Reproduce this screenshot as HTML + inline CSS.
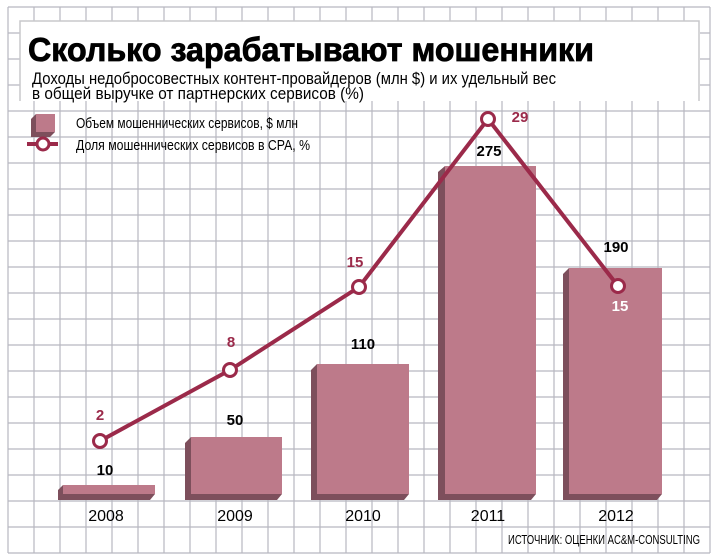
<!DOCTYPE html>
<html><head><meta charset="utf-8"><style>
html,body{margin:0;padding:0;background:#fff;}
svg{display:block;}
text{font-family:"Liberation Sans","DejaVu Sans",sans-serif;}
</style></head><body>
<svg width="719" height="560" viewBox="0 0 719 560" xmlns="http://www.w3.org/2000/svg">
<rect width="719" height="560" fill="#fff"/>
<g stroke="#b8b8c0" stroke-width="1.2">
<path d="M8 7V553M34 7V553M60 7V553M86 7V553M112 7V553M138 7V553M164 7V553M190 7V553M216 7V553M242 7V553M268 7V553M294 7V553M320 7V553M346 7V553M372 7V553M398 7V553M424 7V553M450 7V553M476 7V553M502 7V553M528 7V553M554 7V553M580 7V553M606 7V553M632 7V553M658 7V553M684 7V553M710 7V553"/>
<path d="M8 7H710M8 33H710M8 59H710M8 85H710M8 111H710M8 137H710M8 163H710M8 189H710M8 215H710M8 241H710M8 267H710M8 293H710M8 319H710M8 345H710M8 371H710M8 397H710M8 423H710M8 449H710M8 475H710M8 501H710M8 527H710M8 553H710"/>
</g>
<rect x="20" y="21" width="680" height="80" fill="#fff"/>
<path d="M20 101V21H699V101" fill="none" stroke="#c8c8cc" stroke-width="1.5"/>
<text x="28" y="61" font-size="33" font-weight="bold" stroke="#000" stroke-width="0.8" textLength="566" lengthAdjust="spacingAndGlyphs">Сколько зарабатывают мошенники</text>
<text x="32" y="84" font-size="17" textLength="524" lengthAdjust="spacingAndGlyphs">Доходы недобросовестных контент-провайдеров (млн $) и их удельный вес</text>
<text x="32" y="99" font-size="17" textLength="332" lengthAdjust="spacingAndGlyphs">в общей выручке от партнерских сервисов (%)</text>
<path d="M31 119L36 114H55V132L50 137H31Z" fill="#7d4f5c"/>
<rect x="36" y="114" width="19" height="18" fill="#bd7a8a"/>
<line x1="27" y1="144" x2="58" y2="144" stroke="#9b2a4a" stroke-width="4"/>
<circle cx="43" cy="144" r="6" fill="#fff" stroke="#9b2a4a" stroke-width="3"/>
<text x="76" y="128" font-size="15" textLength="222" lengthAdjust="spacingAndGlyphs">Объем мошеннических сервисов, $ млн</text>
<text x="76" y="150" font-size="15" textLength="234" lengthAdjust="spacingAndGlyphs">Доля мошеннических сервисов в CPA, %</text>
<g>
<path d="M58 490L63 485V494H155L150 500H58Z" fill="#7d4f5c"/>
<rect x="63" y="485" width="92" height="9" fill="#bd7a8a"/>
<path d="M185 443L191 437V494H282L277 500H185Z" fill="#7d4f5c"/>
<rect x="191" y="437" width="91" height="57" fill="#bd7a8a"/>
<path d="M311 370L317 364V494H409L404 500H311Z" fill="#7d4f5c"/>
<rect x="317" y="364" width="92" height="130" fill="#bd7a8a"/>
<path d="M438 172L445 166V494H536L531 500H438Z" fill="#7d4f5c"/>
<rect x="445" y="166" width="91" height="328" fill="#bd7a8a"/>
<path d="M563 274L569 268V494H662L657 500H563Z" fill="#7d4f5c"/>
<rect x="569" y="268" width="93" height="226" fill="#bd7a8a"/>
</g>
<polyline points="100,441 230,370 359,287 488,119 618,286" fill="none" stroke="#9b2a4a" stroke-width="4"/>
<g fill="#fff" stroke="#9b2a4a" stroke-width="3">
<circle cx="100" cy="441" r="6.5"/><circle cx="230" cy="370" r="6.5"/><circle cx="359" cy="287" r="6.5"/><circle cx="488" cy="119" r="6.5"/><circle cx="618" cy="286" r="6.5"/>
</g>
<g font-size="15" font-weight="bold" fill="#9b2a4a" text-anchor="middle">
<text x="100" y="420">2</text><text x="231" y="347">8</text><text x="355" y="267">15</text><text x="520" y="122">29</text>
<text x="620" y="311" fill="#fff">15</text>
</g>
<g font-size="15" font-weight="bold" fill="#000" text-anchor="middle">
<text x="105" y="475">10</text><text x="235" y="425">50</text><text x="363" y="349">110</text><text x="489" y="156">275</text><text x="616" y="252">190</text>
</g>
<g font-size="16" fill="#000" text-anchor="middle">
<text x="106" y="521">2008</text><text x="235" y="521">2009</text><text x="363" y="521">2010</text><text x="488" y="521">2011</text><text x="616" y="521">2012</text>
</g>
<text x="700" y="544" font-size="13" text-anchor="end" textLength="192" lengthAdjust="spacingAndGlyphs">ИСТОЧНИК: ОЦЕНКИ AC&amp;M-CONSULTING</text>
</svg>
</body></html>
